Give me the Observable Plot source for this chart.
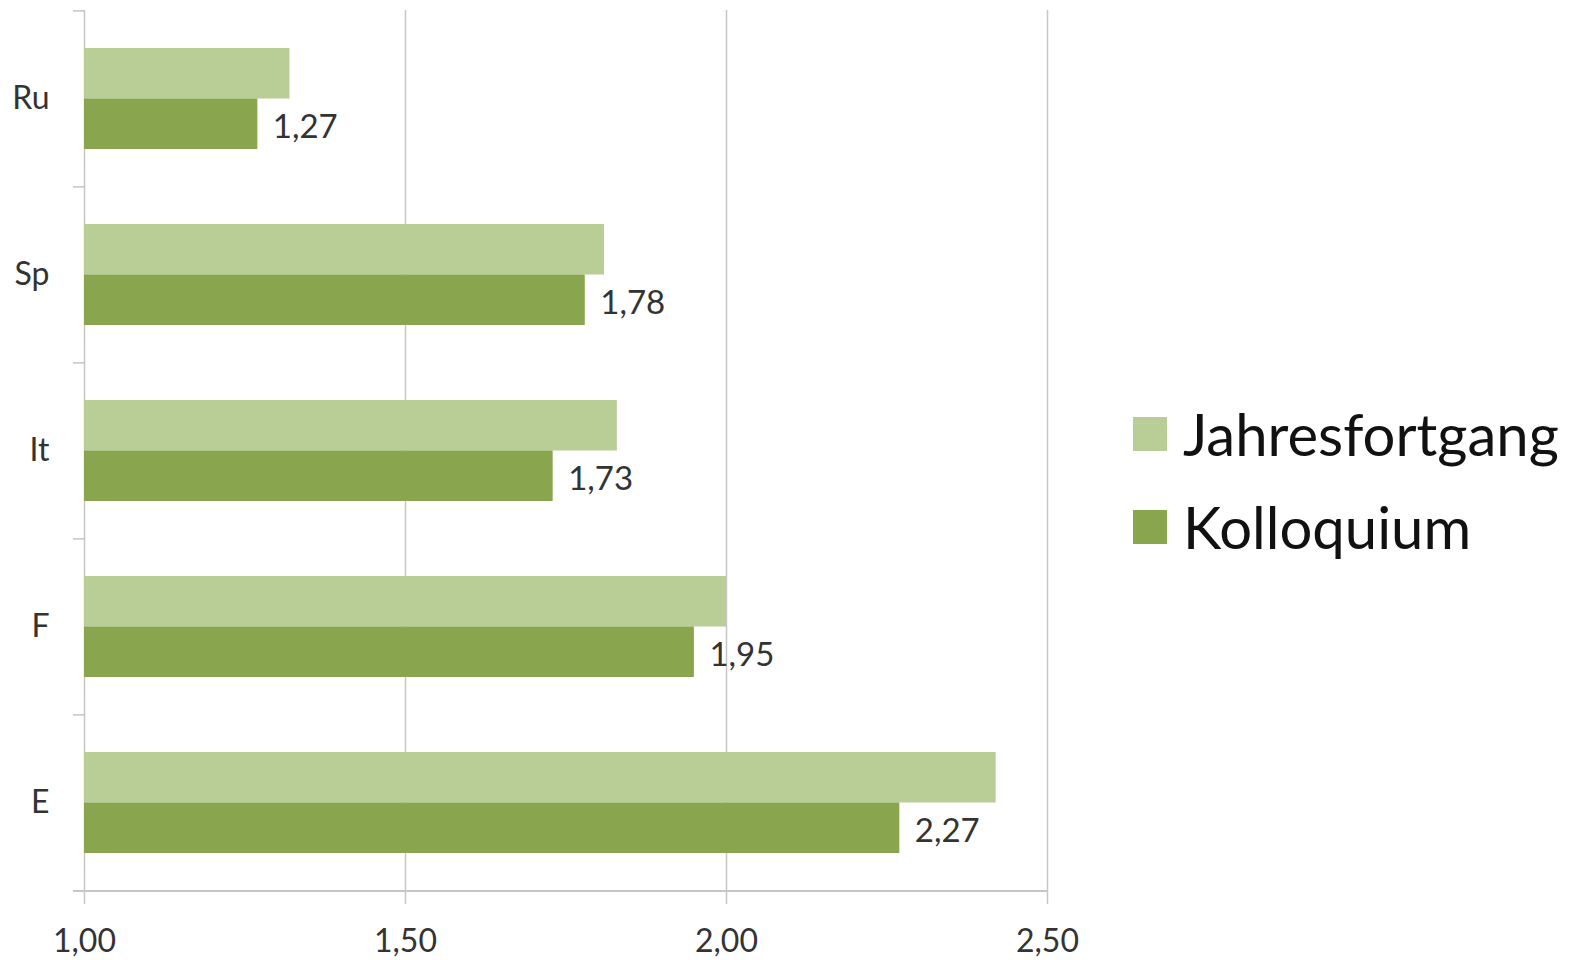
<!DOCTYPE html>
<html><head><meta charset="utf-8">
<script src="https://cdn.jsdelivr.net/npm/d3@7"></script>
<script src="https://cdn.jsdelivr.net/npm/@observablehq/plot@0.6"></script>
<style>
body{margin:0;background:#fff;font-family:Lato,sans-serif;}
#wrap{position:relative;width:1581px;height:960px;}
.leg{position:absolute;left:1133px;display:flex;align-items:center;height:34px;font-size:58px;color:#111;white-space:nowrap;line-height:1}
.sw{width:34px;height:34px;margin-right:16px;flex:none}
</style></head><body>
<div id="wrap"></div>
<script>
const categories = ["Ru","Sp","It","F","E"];
const jahresfortgang = [1.32,1.81,1.83,2.00,2.42];
const kolloquium = [1.27,1.78,1.73,1.95,2.27];
const xTicks = [1.00,1.50,2.00,2.50];
const seriesNames = ["Jahresfortgang","Kolloquium"];
const seriesColors = ["#b9ce97","#89a54e"];

const data = categories.map((c,i)=>({cat:c, jahr:jahresfortgang[i], kol:kolloquium[i]}));
const fmt = d => d.toFixed(2).replace(".", ",");

const W=1581, H=960, mt=10, mb=69, ml=84, mr=534;
const pInner = 0.427;
const step = (H-mt-mb)/categories.length;
const bw = step*(1-pInner);
const gridColor = "#c6c6c6";
const textColor = "#333";

const chart = Plot.plot({
  width: W, height: H,
  marginTop: mt, marginBottom: mb, marginLeft: ml, marginRight: mr,
  style: {fontFamily: "Lato, sans-serif", fontSize: "32px", background: "#fff"},
  x: {domain: [xTicks[0], xTicks[xTicks.length-1]], label: null},
  y: {domain: categories, paddingInner: pInner, paddingOuter: pInner/2, label: null},
  marks: [
    Plot.ruleX(xTicks, {stroke: gridColor, strokeWidth: 1.5}),
    Plot.ruleY(categories, {y: d=>d, x1: xTicks[0], x2: xTicks[0], insetLeft: -11, dy: -step/2, stroke: gridColor, strokeWidth: 1.5}),
    Plot.ruleY([categories[categories.length-1]], {y: d=>d, x1: xTicks[0], x2: xTicks[xTicks.length-1], insetLeft: -11, dy: step/2, stroke: gridColor, strokeWidth: 2}),
    Plot.barX(data, {y: "cat", x1: () => xTicks[0], x2: "jahr", fill: seriesColors[0], insetBottom: bw/2}),
    Plot.barX(data, {y: "cat", x1: () => xTicks[0], x2: "kol", fill: seriesColors[1], insetTop: bw/2}),
    Plot.text(data, {y: "cat", x: "kol", text: d => fmt(d.kol), textAnchor: "start", dx: 15, dy: 28, fontSize: 33, fill: textColor}),
    Plot.axisX({ticks: xTicks, tickFormat: fmt, tickSize: 13, tickPadding: 25, fontSize: 32, stroke: gridColor, strokeWidth: 1.5, fill: textColor, label: null}),
    Plot.axisY({tickSize: 0, tickPadding: 35, fontSize: 32, fill: textColor, label: null})
  ]
});
const wrap = document.getElementById("wrap");
wrap.appendChild(chart);
const tops = [417, 510];
seriesNames.forEach((n,i)=>{
  const row = document.createElement("div");
  row.className = "leg";
  row.style.top = tops[i] + "px";
  const sw = document.createElement("div");
  sw.className = "sw"; sw.style.background = seriesColors[i];
  const t = document.createElement("span");
  t.textContent = n;
  row.appendChild(sw); row.appendChild(t);
  wrap.appendChild(row);
});
</script>
</body></html>
